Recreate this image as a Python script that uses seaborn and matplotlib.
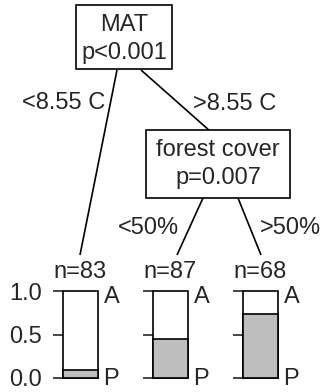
import matplotlib
matplotlib.use("Agg")
import matplotlib.pyplot as plt
from matplotlib.patches import Rectangle
import seaborn as sns
import pandas as pd

# inner nodes of the tree
node_vars = ["MAT", "forest cover"]
node_pvals = ["p<0.001", "p=0.007"]
edge_labels = ["<8.55 C", ">8.55 C", "<50%", ">50%"]

# terminal nodes: sample size and share of class P (grey part)
leaf_n = [83, 87, 68]
leaf_P = [0.09, 0.45, 0.74]
classes = ["A", "P"]
y_ticks = [0.0, 0.5, 1.0]

sns.set_style("white")
plt.rcParams['font.family'] = ['Liberation Sans', 'DejaVu Sans']
FS = 17
LW = 1.2

W, H = 322, 392
fig = plt.figure(figsize=(W / 100, H / 100), dpi=100)

# overlay axes in pixel units for the tree skeleton
tree = fig.add_axes([0, 0, 1, 1])
tree.set_xlim(0, W)
tree.set_ylim(H, 0)
tree.axis('off')

# edges (drawn first, boxes go on top)
edges = [((117, 70), (80, 255)),
         ((141, 70), (210, 131)),
         ((203, 198), (177, 255)),
         ((238, 198), (261, 255))]
for (x0, y0), (x1, y1) in edges:
    tree.plot([x0, x1], [y0, y1], color='black', lw=LW, solid_capstyle='butt')

# inner node boxes
boxes = [(76, 5, 172, 69), (146, 130, 290, 198)]
for (x0, y0, x1, y1), var, pv in zip(boxes, node_vars, node_pvals):
    tree.add_patch(Rectangle((x0, y0), x1 - x0, y1 - y0, facecolor='white',
                             edgecolor='black', lw=LW, zorder=3))
    cx = (x0 + x1) / 2
    tree.text(cx, y0 + 20, var, ha='center', va='center', fontsize=FS, zorder=4)
    tree.text(cx, y0 + 48, pv, ha='center', va='center', fontsize=FS, zorder=4)

# edge labels
tree.text(64, 103, edge_labels[0], ha='center', va='center', fontsize=FS)
tree.text(235, 104, edge_labels[1], ha='center', va='center', fontsize=FS)
tree.text(179, 228, edge_labels[2], ha='right', va='center', fontsize=FS)
tree.text(260, 228, edge_labels[3], ha='left', va='center', fontsize=FS)

# terminal node bar plots
df = pd.DataFrame({"leaf": ["n=%d" % n for n in leaf_n], "P": leaf_P})
bar_left = [63, 153, 243]
bar_top, bar_bottom, bar_w = 291, 378, 35

for i, row in df.iterrows():
    ax = fig.add_axes([bar_left[i] / W, 1 - bar_bottom / H, bar_w / W,
                       (bar_bottom - bar_top) / H])
    sns.barplot(x=[0], y=[1.0], color='white', edgecolor='black', linewidth=LW,
                width=1, saturation=1, ax=ax)
    sns.barplot(x=[0], y=[row["P"]], color='#bebebe', edgecolor='black',
                linewidth=LW, width=1, saturation=1, ax=ax)
    for p in ax.patches:
        p.set_clip_on(False)
    ax.set_xlim(-0.5, 0.5)
    ax.set_ylim(0, 1)
    ax.set_xticks([])
    ax.set_xlabel('')
    ax.set_ylabel('')
    for s in ax.spines.values():
        s.set_visible(False)
    ax.set_yticks(y_ticks)
    ax.tick_params(axis='y', left=True, direction='out', length=7.2, width=LW,
                   pad=8, labelsize=FS)
    if i == 0:
        ax.set_yticklabels(["%.1f" % t for t in y_ticks])
    else:
        ax.set_yticklabels([])
    ax.text(1.18, 1.06, classes[0], transform=ax.transAxes, ha='left', va='top',
            fontsize=FS)
    ax.text(1.15, 0.11, classes[1], transform=ax.transAxes, ha='left', va='top',
            fontsize=FS)
    tree.text(bar_left[i] + bar_w / 2, 272, row["leaf"], ha='center',
              va='center', fontsize=FS)

fig.savefig("out.png", dpi=100)
